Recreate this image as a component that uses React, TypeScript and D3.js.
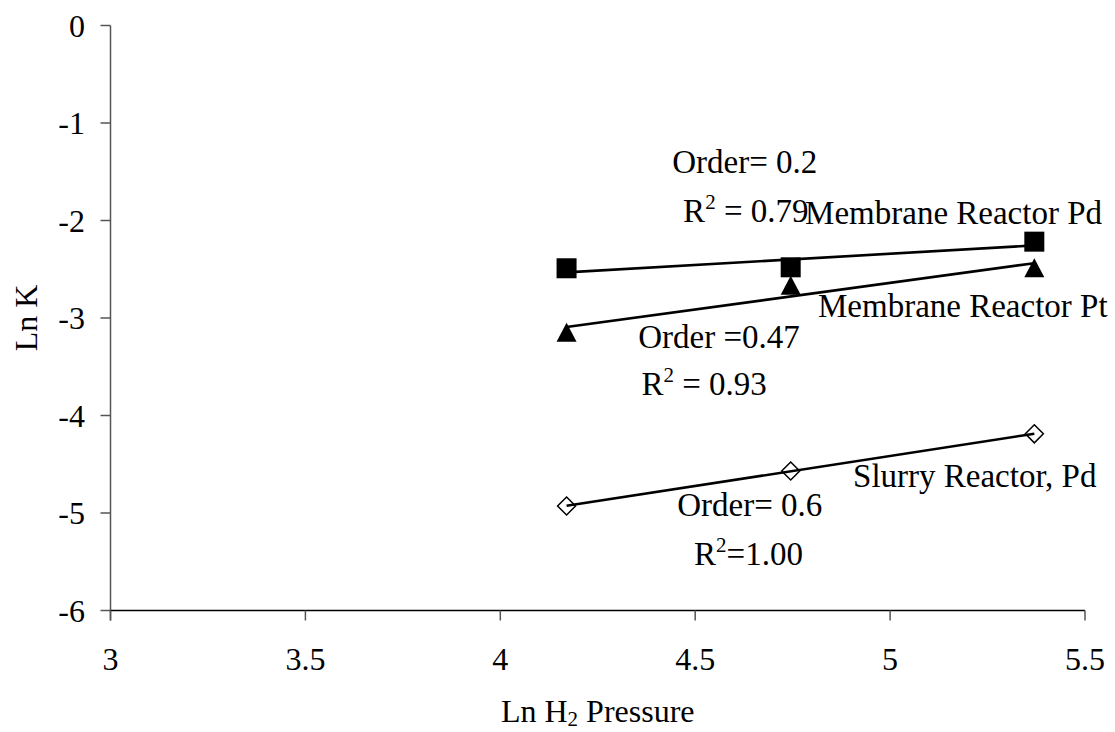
import React from "react";
import * as d3 from "d3";

const xValues = [4.17, 4.745, 5.37];
const pdMembrane = [-2.49, -2.48, -2.217];
const ptMembrane = [-3.15, -2.67, -2.49];
const pdSlurry = [-4.928, -4.569, -4.188];

const xTicks = [3, 3.5, 4, 4.5, 5, 5.5];
const yTicks = [0, -1, -2, -3, -4, -5, -6];

type Ann = { x: number; y: number; parts: { t: string; sup?: boolean }[] };
const annotations: Ann[] = [
  { x: 4.441, y: -1.513, parts: [{ t: "Order= 0.2" }] },
  { x: 4.469, y: -2.015, parts: [{ t: "R" }, { t: "2", sup: true }, { t: " = 0.79" }] },
  { x: 4.782, y: -2.04, parts: [{ t: "Membrane Reactor Pd" }] },
  { x: 4.815, y: -2.99, parts: [{ t: "Membrane Reactor Pt" }] },
  { x: 4.354, y: -3.308, parts: [{ t: "Order =0.47" }] },
  { x: 4.362, y: -3.79, parts: [{ t: "R" }, { t: "2", sup: true }, { t: " = 0.93" }] },
  { x: 4.905, y: -4.733, parts: [{ t: "Slurry Reactor, Pd" }] },
  { x: 4.454, y: -5.03, parts: [{ t: "Order= 0.6" }] },
  { x: 4.497, y: -5.53, parts: [{ t: "R" }, { t: "2", sup: true }, { t: "=1.00" }] },
];

const W = 1115;
const H = 732;
const FONT = "'Liberation Serif', 'Times New Roman', serif";

function fit(xs: number[], ys: number[]) {
  const mx = d3.mean(xs)!;
  const my = d3.mean(ys)!;
  let sxy = 0, sxx = 0;
  xs.forEach((x, i) => {
    sxy += (x - mx) * (ys[i] - my);
    sxx += (x - mx) * (x - mx);
  });
  const b = sxy / sxx;
  const a = my - b * mx;
  const x0 = d3.min(xs)!;
  const x1 = d3.max(xs)!;
  return [
    [x0, a + b * x0],
    [x1, a + b * x1],
  ] as [number, number][];
}

export default function App() {
  const x = d3.scaleLinear().domain([3, 5.5]).range([110.5, 1085]);
  const y = d3.scaleLinear().domain([-6, 0]).range([610.5, 25.5]);
  const line = d3
    .line<[number, number]>()
    .x((d) => x(d[0]))
    .y((d) => y(d[1]));

  const series = [
    { vals: pdMembrane, shape: "square" },
    { vals: ptMembrane, shape: "triangle" },
    { vals: pdSlurry, shape: "diamond" },
  ];

  const marker = (shape: string, cx: number, cy: number, key: string) => {
    if (shape === "square")
      return <rect key={key} x={cx - 10} y={cy - 10} width={20} height={20} fill="#000" />;
    if (shape === "triangle")
      return (
        <path
          key={key}
          d={`M${cx},${cy - 10}L${cx + 10},${cy + 9}L${cx - 10},${cy + 9}Z`}
          fill="#000"
        />
      );
    return (
      <path
        key={key}
        d={`M${cx},${cy - 9}L${cx + 9},${cy}L${cx},${cy + 9}L${cx - 9},${cy}Z`}
        fill="none"
        stroke="#000"
        strokeWidth={1.5}
      />
    );
  };

  return (
    <svg
      width={W}
      height={H}
      style={{ position: "absolute", left: 0, top: 0, background: "#fff" }}
      fontFamily={FONT}
    >
      {/* axes */}
      <line x1={x(3)} x2={x(3)} y1={y(0)} y2={y(-6) + 10} stroke="#555" strokeWidth={1.5} />
      <line x1={x(3)} x2={x(5.5)} y1={y(-6)} y2={y(-6)} stroke="#000" strokeWidth={1.5} />
      {yTicks.map((t) => (
        <g key={"y" + t}>
          <line x1={x(3) - 10} x2={x(3)} y1={y(t)} y2={y(t)} stroke="#555" strokeWidth={1.5} />
          <text x={85} y={y(t) + 11} fontSize={32} textAnchor="end" fill="#000">
            {t === 0 ? "0" : "-" + Math.abs(t)}
          </text>
        </g>
      ))}
      {xTicks.map((t) => (
        <g key={"x" + t}>
          <line x1={x(t)} x2={x(t)} y1={y(-6)} y2={y(-6) + 10} stroke="#555" strokeWidth={1.5} />
          <text x={x(t)} y={670} fontSize={32} textAnchor="middle" fill="#000">
            {String(t)}
          </text>
        </g>
      ))}
      {/* axis titles */}
      <text
        transform={`translate(37,${(y(0) + y(-6)) / 2}) rotate(-90)`}
        fontSize={32}
        textAnchor="middle"
      >
        Ln K
      </text>
      <text x={(x(3) + x(5.5)) / 2} y={722} fontSize={32} textAnchor="middle">
        Ln H
        <tspan fontSize={21} dy={4}>2</tspan>
        <tspan dy={-4}> Pressure</tspan>
      </text>

      {/* trend lines */}
      {series.map((s, i) => (
        <path
          key={"l" + i}
          d={line(fit(xValues, s.vals)) || ""}
          fill="none"
          stroke="#000"
          strokeWidth={2.6}
        />
      ))}
      {/* markers */}
      {series.map((s, i) =>
        s.vals.map((v, j) => marker(s.shape, x(xValues[j]), y(v), `m${i}-${j}`))
      )}

      {/* annotations */}
      {annotations.map((a, i) => (
        <text key={"a" + i} x={x(a.x)} y={y(a.y)} fontSize={33} fill="#000">
          {a.parts.map((p, k) =>
            p.sup ? (
              <tspan key={k} fontSize={21} dy={-13}>
                {p.t}
              </tspan>
            ) : (
              <tspan key={k} dy={k > 0 && a.parts[k - 1].sup ? 13 : 0}>
                {p.t}
              </tspan>
            )
          )}
        </text>
      ))}
    </svg>
  );
}
